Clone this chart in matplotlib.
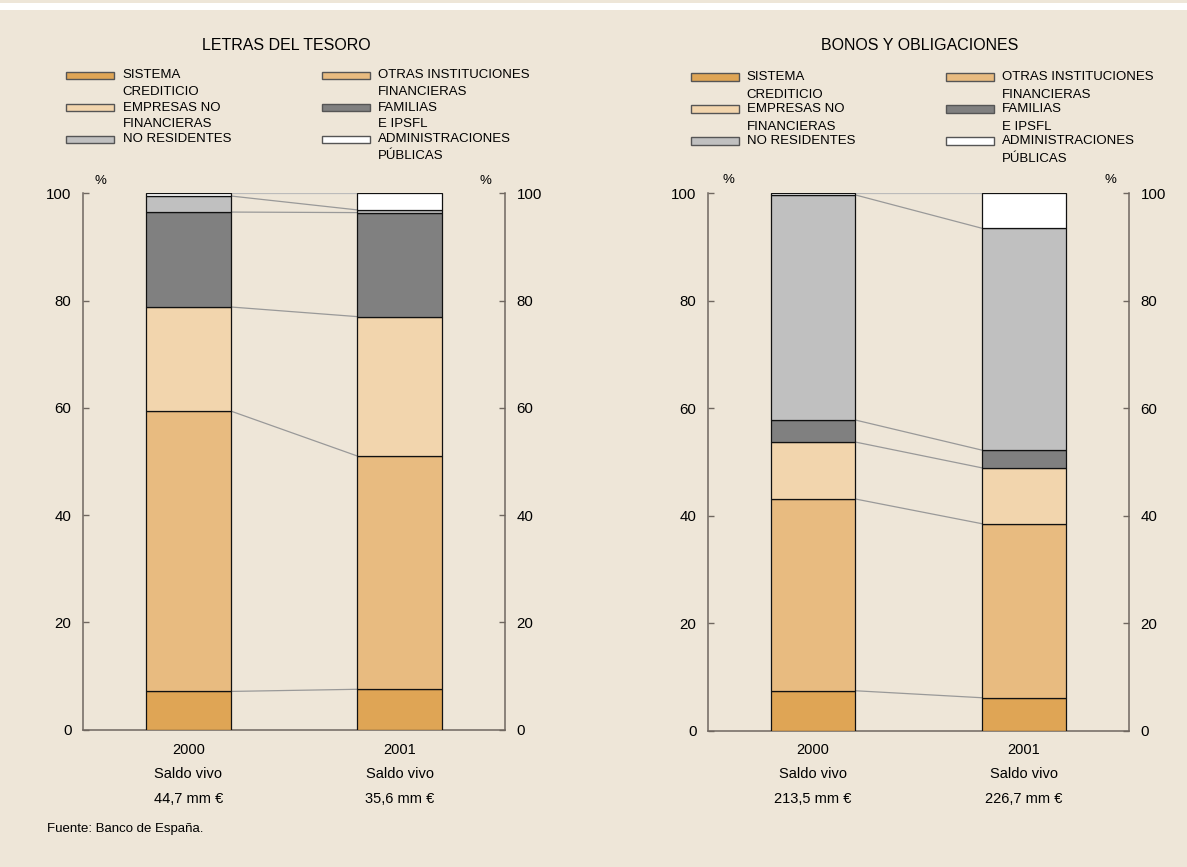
import matplotlib
matplotlib.use("Agg")
import matplotlib.pyplot as plt
import matplotlib.transforms as mtransforms
from matplotlib.patches import Rectangle

plt.rcParams["font.family"] = ["Liberation Sans", "DejaVu Sans"]

# ---- data (percent of outstanding balance) ----
sectors = ["SISTEMA\nCREDITICIO", "OTRAS INSTITUCIONES\nFINANCIERAS",
           "EMPRESAS NO\nFINANCIERAS", "FAMILIAS\nE IPSFL",
           "NO RESIDENTES", "ADMINISTRACIONES\nPÚBLICAS"]
colors = ["#DFA555", "#E8BB80", "#F2D5AD", "#808080", "#C0C0C0", "#FFFFFF"]
years = ["2000", "2001"]

letras_2000 = [7.1, 52.3, 19.4, 17.7, 3.0, 0.5]
letras_2001 = [7.5, 43.5, 26.0, 19.4, 0.5, 3.1]
letras_saldo = ["44,7 mm €", "35,6 mm €"]

bonos_2000 = [7.4, 35.7, 10.6, 4.1, 41.9, 0.3]
bonos_2001 = [6.1, 32.4, 10.4, 3.3, 41.3, 6.5]
bonos_saldo = ["213,5 mm €", "226,7 mm €"]

BG = "#EEE6D8"
SPINE = "#6F6760"
W, H = 1187, 867

fig = plt.figure(figsize=(W / 100, H / 100), dpi=100, facecolor=BG)


def fx(x):
    return x / W


def fy(y):
    return 1 - y / H


# white band near the top
fig.patches.append(Rectangle((0, fy(10)), 1, 7 / H, transform=fig.transFigure,
                             facecolor="white", edgecolor="none"))


def panel(rect, title, title_x, v2000, v2001, saldo, leg, pct):
    ax = fig.add_axes(rect, facecolor=BG)
    width = 0.4
    bottoms = [0.0, 0.0]
    for i, (a, b) in enumerate(zip(v2000, v2001)):
        ax.bar([0, 1], [a, b], width=width, bottom=bottoms, color=colors[i],
               edgecolor="#111111", linewidth=0.9, zorder=3)
        bottoms = [bottoms[0] + a, bottoms[1] + b]
        lc = "#BBBBBB" if i == len(v2000) - 1 else "#999999"
        ax.plot([width / 2, 1 - width / 2], bottoms, color=lc, lw=0.9, zorder=2)

    ax.set_xlim(-0.5, 1.5)
    ax.set_ylim(0, 100)
    ax.set_yticks([0, 20, 40, 60, 80, 100])
    ax.set_xticks([])
    ax.spines["top"].set_visible(False)
    for s in ("left", "right", "bottom"):
        ax.spines[s].set_color(SPINE)
        ax.spines[s].set_linewidth(1.1)
    ax.tick_params(axis="y", direction="in", length=4, width=1, color=SPINE,
                   left=True, right=True, labelleft=True, labelright=True,
                   labelsize=10.8, pad=8)

    # category labels under the bars
    tr = mtransforms.blended_transform_factory(ax.transData, fig.transFigure)
    for x, yr, s in zip([0, 1], years, saldo):
        ax.text(x, fy(750), yr, transform=tr, ha="center", va="center", fontsize=10.5)
        ax.text(x, fy(774), "Saldo vivo", transform=tr, ha="center", va="center", fontsize=10.5)
        ax.text(x, fy(799), s, transform=tr, ha="center", va="center", fontsize=10.5)

    fig.text(fx(title_x), fy(45), title, ha="center", va="center", fontsize=11.5)
    fig.text(fx(pct[0]), fy(pct[2]), "%", ha="center", va="center", fontsize=9.5)
    fig.text(fx(pct[1]), fy(pct[2]), "%", ha="center", va="center", fontsize=9.5)

    # legend drawn by hand: two columns, row-major order
    (c1_patch, c1_text, c2_patch, c2_text, rows, dline) = leg
    for i, (lab, col) in enumerate(zip(sectors, colors)):
        r, c = divmod(i, 2)
        px, tx = (c1_patch, c1_text) if c == 0 else (c2_patch, c2_text)
        y = rows[r]
        fig.patches.append(Rectangle((fx(px), fy(y + 3.5)), 48 / W, 7 / H,
                                     transform=fig.transFigure, facecolor=col,
                                     edgecolor="#555555", linewidth=1))
        for k, line in enumerate(lab.split("\n")):
            fig.text(fx(tx), fy(y + k * dline), line, ha="left", va="center",
                     fontsize=9.5)
    return ax


panel([fx(82.7), fy(729.5), 422.6 / W, 536.2 / H], "LETRAS DEL TESORO", 286,
      letras_2000, letras_2001, letras_saldo,
      (66, 122.7, 321.7, 377.7, [75.5, 107.7, 139.5], 16.5), (100, 485.7, 181))
panel([fx(707.7), fy(730.5), 421.6 / W, 537.2 / H], "BONOS Y OBLIGACIONES", 920,
      bonos_2000, bonos_2001, bonos_saldo,
      (691, 746.7, 945.7, 1001.7, [77, 109, 141], 17.5), (728.3, 1110, 180))

fig.text(fx(47), fy(829), "Fuente: Banco de España.", ha="left", va="center",
         fontsize=9.5)

fig.savefig("out.png", dpi=100, facecolor=BG)
